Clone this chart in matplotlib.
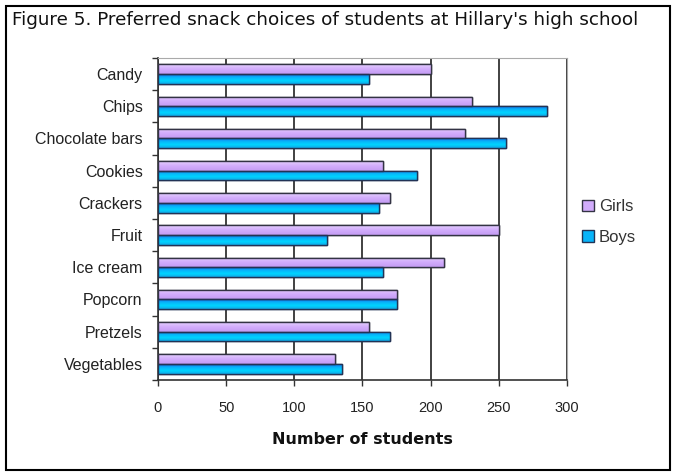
import numpy as np
import matplotlib
matplotlib.use('Agg')
import matplotlib.pyplot as plt
from matplotlib.patches import Rectangle
from matplotlib.colors import LinearSegmentedColormap

# Snack survey counts
snacks = ['Candy', 'Chips', 'Chocolate bars', 'Cookies', 'Crackers', 'Fruit',
          'Ice cream', 'Popcorn', 'Pretzels', 'Vegetables']
girls = [200, 230, 225, 165, 170, 250, 210, 175, 155, 130]
boys = [155, 285, 255, 190, 162, 124, 165, 175, 170, 135]
xticks = [0, 50, 100, 150, 200, 250, 300]

girl_cmap = LinearSegmentedColormap.from_list('g', ['#e4d0ff', '#d2acfc', '#c49cf4'])
boy_cmap = LinearSegmentedColormap.from_list('b', ['#1070ec', '#08b4fa', '#00d4ff', '#10a8e8'])

fig = plt.figure(figsize=(6.76, 4.75), dpi=100)
ax = fig.add_axes([0.2337, 0.2, 0.605, 0.678])

y = np.arange(len(snacks))
h = 0.3
gb = ax.barh(y - h / 2, girls, height=h, color='#d2acfc', edgecolor='#333344',
             linewidth=1.0, label='Girls', zorder=3)
bb = ax.barh(y + h / 2, boys, height=h, color='#08b4fa', edgecolor='#223355',
             linewidth=1.0, label='Boys', zorder=3)

# vertical shading inside each bar
grad = np.linspace(0, 1, 64).reshape(-1, 1)
for bars, cm in [(gb, girl_cmap), (bb, boy_cmap)]:
    for b in bars:
        x0, y0 = b.get_x(), b.get_y()
        im = ax.imshow(grad, cmap=cm, aspect='auto', zorder=3.5,
                       extent=[x0, x0 + b.get_width(), y0 + b.get_height(), y0])
        im.set_clip_path(b)
        ax.add_patch(Rectangle((x0, y0), b.get_width(), b.get_height(), fill=False,
                               edgecolor=b.get_edgecolor(), linewidth=1.0, zorder=4))

ax.set_xlim(0, 300)
ax.set_ylim(len(snacks) - 0.5, -0.5)
ax.set_aspect('auto')
ax.set_xticks(xticks)
ax.set_xticklabels([str(v) for v in xticks], fontsize=10.5, color='#222222',
                   family='Liberation Sans')
ax.set_yticks(y)
ax.set_yticklabels(snacks, fontsize=11.5, color='#222222', family='Liberation Sans')
ax.set_yticks(np.arange(len(snacks) + 1) - 0.5, minor=True)
ax.tick_params(axis='y', which='major', length=0, pad=11)
ax.tick_params(axis='y', which='minor', length=4, width=1, color='#333333')
ax.tick_params(axis='x', length=4, width=1, color='#333333', pad=11)

ax.grid(axis='x', color='#333333', linewidth=1.3, zorder=0)
for side in ['top', 'right']:
    ax.spines[side].set_color('#aaaaaa')
for side in ['left', 'bottom']:
    ax.spines[side].set_color('#333333')
    ax.spines[side].set_linewidth(1.2)

ax.set_xlabel('Number of students', fontsize=11.5, fontweight='bold',
              family='DejaVu Sans', labelpad=12, color='#111111')

leg = ax.legend(loc='center left', bbox_to_anchor=(1.0, 0.49), frameon=False,
                handlelength=0.7, handleheight=0.7, handletextpad=0.3,
                labelspacing=0.95, prop={'family': 'Liberation Sans', 'size': 12})
for t in leg.get_texts():
    t.set_color('#333333')

fig.text(12 / 676, 1 - 20 / 475, "Figure 5. Preferred snack choices of students at Hillary's high school",
         fontsize=13.2, family='DejaVu Sans', va='center', ha='left', color='#111111')

fig.patches.append(Rectangle((6 / 676, 5 / 475), 664 / 676, 464 / 475,
                             transform=fig.transFigure, fill=False,
                             edgecolor='black', linewidth=1.5))

fig.savefig('out.png', dpi=100)
